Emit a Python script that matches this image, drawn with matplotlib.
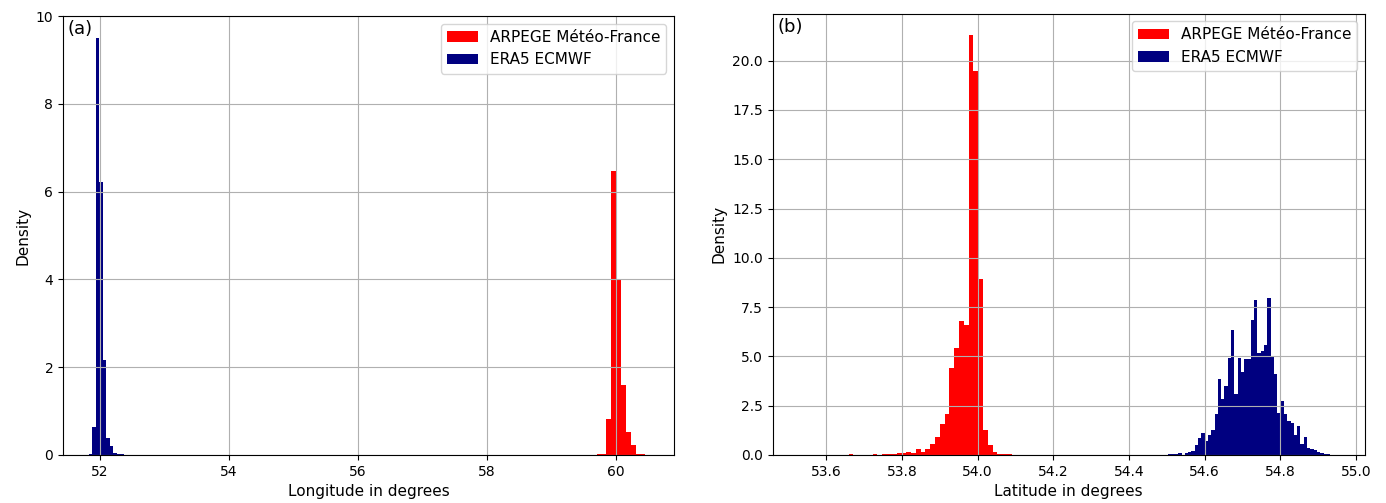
import numpy as np
import matplotlib
matplotlib.use("Agg")
import matplotlib.pyplot as plt

# ---------------- data ----------------
labels = ["ARPEGE Météo-France", "ERA5 ECMWF"]
colors = ["red", "navy"]

# Panel (a): longitude densities
lon_arpege_start = 59.70
lon_arpege_width = 0.075
lon_arpege_density = [0.02, 0.03, 0.83, 6.46, 3.98, 1.59, 0.53, 0.23, 0.03, 0.02]

lon_era5_start = 51.834
lon_era5_width = 0.054
lon_era5_density = [0.03, 0.64, 9.49, 6.21, 2.16, 0.38, 0.20, 0.05, 0.03, 0.02]

# Panel (b): latitude densities
lat_arpege_start = 53.6589
lat_arpege_width = 0.0127
lat_arpege_density = [0.05, 0.0, 0.0, 0.0, 0.0, 0.05, 0.0, 0.03, 0.05, 0.05,
                      0.08, 0.10, 0.17, 0.08, 0.28, 0.17, 0.30, 0.54, 0.93, 1.56,
                      2.06, 4.43, 5.41, 6.80, 6.57, 21.32, 19.46, 8.92, 1.27, 0.51,
                      0.14, 0.05, 0.04, 0.03, 0.02]

lat_era5_start = 54.4954
lat_era5_width = 0.00873
lat_era5_density = [0.02, 0.03, 0.05, 0.05, 0.08, 0.02, 0.08, 0.14, 0.20, 0.50,
                    0.85, 1.13, 0.71, 1.01, 1.25, 2.06, 3.83, 2.82, 3.50, 4.93,
                    6.32, 3.10, 4.90, 4.22, 4.85, 4.85, 6.87, 7.84, 5.19, 5.27,
                    5.60, 7.94, 4.97, 4.09, 2.15, 2.74, 2.10, 1.72, 1.64, 1.01,
                    1.45, 0.54, 0.91, 0.37, 0.29, 0.25, 0.17, 0.08, 0.03, 0.03]

# ---------------- plot ----------------
fig = plt.figure(figsize=(13.86, 5.03), dpi=100)
axa = fig.add_axes([0.04545, 0.09543, 0.44084, 0.87276])
axb = fig.add_axes([0.55736, 0.09543, 0.42749, 0.8777])


def draw(ax, start, width, dens, color, label):
    n = len(dens)
    lefts = start + width * np.arange(n)
    ax.bar(lefts, dens, width=width, align="edge", color=color,
           linewidth=0, label=label)


draw(axa, lon_arpege_start, lon_arpege_width, lon_arpege_density, colors[0], labels[0])
draw(axa, lon_era5_start, lon_era5_width, lon_era5_density, colors[1], labels[1])
draw(axb, lat_arpege_start, lat_arpege_width, lat_arpege_density, colors[0], labels[0])
draw(axb, lat_era5_start, lat_era5_width, lat_era5_density, colors[1], labels[1])

axa.set_xlim(51.434, 60.896)
axa.set_ylim(0, 10)
axb.set_xlim(53.458, 55.024)
axb.set_ylim(0, 22.39)
axb.set_xticks(np.arange(53.6, 55.01, 0.2))
axb.set_yticks(np.arange(0, 20.01, 2.5))

for ax, tag, xl in [(axa, "(a)", "Longitude in degrees"),
                    (axb, "(b)", "Latitude in degrees")]:
    ax.grid(True)
    ax.tick_params(labelsize=10)
    ax.set_ylabel("Density", fontsize=11)
    ax.set_xlabel(xl, fontsize=11)
    ax.legend(loc="upper right", fontsize=11)
    ax.text(0.008, 0.99, tag, transform=ax.transAxes, ha="left", va="top",
            fontsize=13)

fig.savefig("out.png", dpi=100)
